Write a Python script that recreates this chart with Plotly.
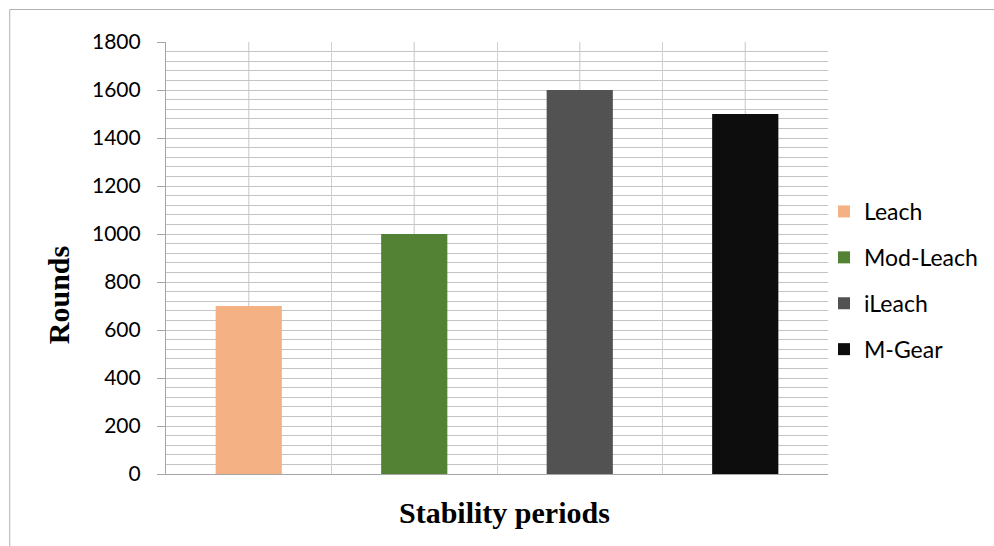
import plotly.graph_objects as go

# Stability period (rounds) for each clustering protocol
categories = ["Leach", "Mod-Leach", "iLeach", "M-Gear"]
rounds = [700, 1000, 1600, 1500]
colors = ["#f4b183", "#548235", "#525252", "#0d0d0d"]

W, H = 994, 546
L, R, T, B = 166, 165, 42, 72
pw, ph = W - L - R, H - T - B


def px_x(x):
    return (x - L) / pw


def px_y(y):
    return (H - B - y) / ph


fig = go.Figure()
for i, (name, val, col) in enumerate(zip(categories, rounds, colors)):
    fig.add_trace(go.Bar(
        x=[name], y=[val], name=name, marker=dict(color=col, line=dict(width=0)),
        width=0.4, legendgroup=name,
    ))

# light vertical lines through the middle of each category
for name in categories:
    fig.add_shape(type="line", xref="x", yref="paper", x0=name, x1=name, y0=0, y1=1,
                  line=dict(color="#d0d0d0", width=1.2), layer="below")

# outer chart border (runs off the right and bottom edges)
fig.add_shape(type="rect", xref="paper", yref="paper",
              x0=px_x(9.5), x1=px_x(1010), y0=px_y(560), y1=px_y(9.5),
              line=dict(color="#b0b0b0", width=1), fillcolor="rgba(0,0,0,0)")

fig.add_annotation(text="<b>Rounds</b>", xref="paper", yref="paper",
                   x=px_x(58), y=px_y(295), xanchor="center", yanchor="middle",
                   textangle=-90, showarrow=False,
                   font=dict(family="Liberation Serif", size=30, color="black"))
fig.add_annotation(text="<b>Stability periods</b>", xref="paper", yref="paper",
                   x=px_x(505), y=px_y(512), xanchor="center", yanchor="middle",
                   showarrow=False,
                   font=dict(family="Liberation Serif", size=30, color="black"))

fig.update_layout(
    width=W, height=H,
    margin=dict(l=L, r=R, t=T, b=B, pad=0),
    paper_bgcolor="white", plot_bgcolor="white",
    barmode="overlay",
    showlegend=True,
    legend=dict(x=px_x(824), y=px_y(190), xanchor="left", yanchor="top",
                font=dict(family="Lato", size=23, color="black"),
                traceorder="grouped", tracegroupgap=13,
                itemwidth=30, bgcolor="rgba(0,0,0,0)"),
    xaxis=dict(type="category", categoryorder="array", categoryarray=categories,
               range=[-0.5, 3.5], tickson="boundaries", showticklabels=False,
               ticks="", showgrid=True, gridcolor="#d0d0d0", gridwidth=1.2,
               showline=True, linecolor="#a6a6a6", linewidth=1.2, zeroline=False),
    yaxis=dict(range=[0, 1800], dtick=200, tick0=0,
               showgrid=True, gridcolor="#c4c4c4", gridwidth=1.2,
               minor=dict(dtick=40, showgrid=True, gridcolor="#c4c4c4", gridwidth=1.2),
               ticks="outside", ticklen=8, tickcolor="#a6a6a6", tickwidth=1.2,
               ticklabelstandoff=12,
               showline=True, linecolor="#a6a6a6", linewidth=1.2, zeroline=False,
               tickfont=dict(family="Lato", size=21, color="black")),
)

fig.write_html("out.html")
